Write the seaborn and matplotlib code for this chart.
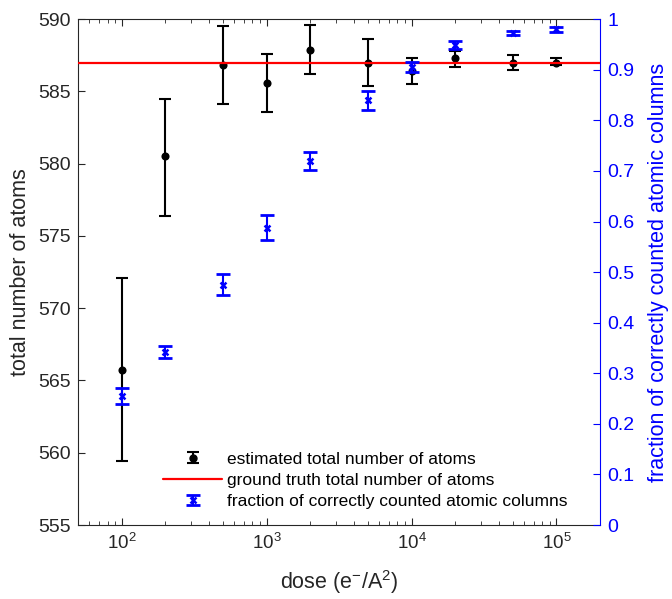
import matplotlib
matplotlib.use("Agg")
import matplotlib.pyplot as plt
from matplotlib.lines import Line2D
from matplotlib.container import ErrorbarContainer
from matplotlib.legend_handler import HandlerErrorbar
import seaborn as sns

# ----------------------------------
# Daten
# ----------------------------------

dose = [1e2, 2e2, 5e2, 1e3, 2e3, 5e3, 1e4, 2e4, 5e4, 1e5]

atoms = [565.7, 580.5, 586.8, 585.6, 587.9, 587.0, 586.4, 587.3, 587.0, 587.0]
atoms_lo = [559.4, 576.4, 584.1, 583.6, 586.2, 585.4, 585.5, 586.7, 586.5, 586.8]
atoms_hi = [572.1, 584.5, 589.5, 587.6, 589.6, 588.6, 587.3, 587.8, 587.5, 587.3]

ground_truth = 587.0

frac = [0.255, 0.343, 0.474, 0.588, 0.719, 0.840, 0.906, 0.949, 0.972, 0.980]
frac_lo = [0.240, 0.331, 0.454, 0.564, 0.701, 0.821, 0.896, 0.941, 0.968, 0.975]
frac_hi = [0.271, 0.354, 0.496, 0.612, 0.737, 0.858, 0.916, 0.957, 0.976, 0.985]

left_ticks = [555, 560, 565, 570, 575, 580, 585, 590]
right_ticks = [0, 0.1, 0.2, 0.3, 0.4, 0.5, 0.6, 0.7, 0.8, 0.9, 1]
right_ticklabels = ["0", "0.1", "0.2", "0.3", "0.4", "0.5", "0.6", "0.7", "0.8", "0.9", "1"]

label_est = "estimated total number of atoms"
label_gt = "ground truth total number of atoms"
label_frac = "fraction of correctly counted atomic columns"

# ----------------------------------
# Stil
# ----------------------------------

sns.set_theme(style="ticks")
plt.rcParams["font.family"] = ["Liberation Sans", "DejaVu Sans"]
plt.rcParams["mathtext.fontset"] = "custom"
plt.rcParams["mathtext.rm"] = "Liberation Sans"
plt.rcParams["mathtext.it"] = "Liberation Sans:italic"
plt.rcParams["mathtext.default"] = "regular"
plt.rcParams["xtick.direction"] = "in"
plt.rcParams["ytick.direction"] = "in"

txt = "#262626"
blue = "#0000ff"

fig, ax = plt.subplots(figsize=(6.72, 5.99), dpi=100)
fig.subplots_adjust(left=0.116, right=0.893, bottom=0.1235, top=0.968)
ax2 = ax.twinx()

# ----------------------------------
# Linke Achse: Anzahl Atome
# ----------------------------------

yerr_atoms = [[a - l for a, l in zip(atoms, atoms_lo)],
              [h - a for a, h in zip(atoms, atoms_hi)]]
eb1 = ax.errorbar(dose, atoms, yerr=yerr_atoms, fmt="none", ecolor="black",
                  elinewidth=1.5, capsize=4.5, capthick=1.5, zorder=2)
sns.scatterplot(x=dose, y=atoms, ax=ax, color="black", s=34, edgecolor="black",
                linewidth=0, zorder=3, legend=False)
gt_line = ax.axhline(ground_truth, color="red", lw=1.6, zorder=4)

ax.set_xscale("log")
ax.set_xlim(50, 2e5)
ax.set_ylim(555, 590)
ax.set_yticks(left_ticks)
ax.set_ylabel("total number of atoms", fontsize=15.5, color=txt)
ax.set_xlabel(r"dose (e$^{-}$/A$^{2}$)", fontsize=15.5, color=txt)
ax.yaxis.set_label_coords(-0.09, 0.5)
ax.xaxis.set_label_coords(0.5, -0.085)

ax.tick_params(axis="y", labelsize=14, length=5, width=0.8, colors=txt, pad=5,
               right=False)
ax.tick_params(axis="x", which="major", labelsize=13.5, length=5, width=0.8,
               colors=txt, pad=6, top=True)
ax.tick_params(axis="x", which="minor", length=3, width=0.6, colors=txt, top=True)
for s in ["left", "bottom", "top"]:
    ax.spines[s].set_color(txt)
    ax.spines[s].set_linewidth(0.8)
ax.spines["right"].set_visible(False)

# ----------------------------------
# Rechte Achse: Anteil korrekt gezaehlter Saeulen
# ----------------------------------

yerr_frac = [[f - l for f, l in zip(frac, frac_lo)],
             [h - f for f, h in zip(frac, frac_hi)]]
eb2 = ax2.errorbar(dose, frac, yerr=yerr_frac, fmt="none", ecolor=blue,
                   elinewidth=1.5, capsize=5, capthick=2, zorder=2)
sns.scatterplot(x=dose, y=frac, ax=ax2, color=blue, marker="x", s=18,
                linewidth=1.8, zorder=3, legend=False)

ax2.set_ylim(0, 1)
ax2.set_yticks(right_ticks)
ax2.set_yticklabels(right_ticklabels)
ax2.set_ylabel(label_frac, fontsize=15.5, color=blue)
ax2.yaxis.set_label_coords(1.092, 0.5)
ax2.tick_params(axis="y", labelsize=14, length=5, width=0.8, colors=blue, pad=5)
for s in ["left", "bottom", "top"]:
    ax2.spines[s].set_visible(False)
ax2.spines["right"].set_color(blue)
ax2.spines["right"].set_linewidth(0.8)

# ----------------------------------
# Legende
# ----------------------------------

m1 = Line2D([], [], marker="o", linestyle="none", color="black", markersize=5)
m2 = Line2D([], [], marker="x", linestyle="none", color=blue, markersize=4.5,
            markeredgewidth=1.8)
leg = ax2.legend([(eb1, m1), gt_line, (eb2, m2)], [label_est, label_gt, label_frac],
                 loc="lower left", bbox_to_anchor=(163 / 672, 0.150),
                 bbox_transform=fig.transFigure, frameon=False, fontsize=12.5,
                 handlelength=3.4, handletextpad=0.3, borderpad=0,
                 borderaxespad=0, labelspacing=0.35,
                 handler_map={ErrorbarContainer: HandlerErrorbar(yerr_size=0.3)})
for t in leg.get_texts():
    t.set_color("black")

fig.savefig("out.png", dpi=100)
plt.close()
